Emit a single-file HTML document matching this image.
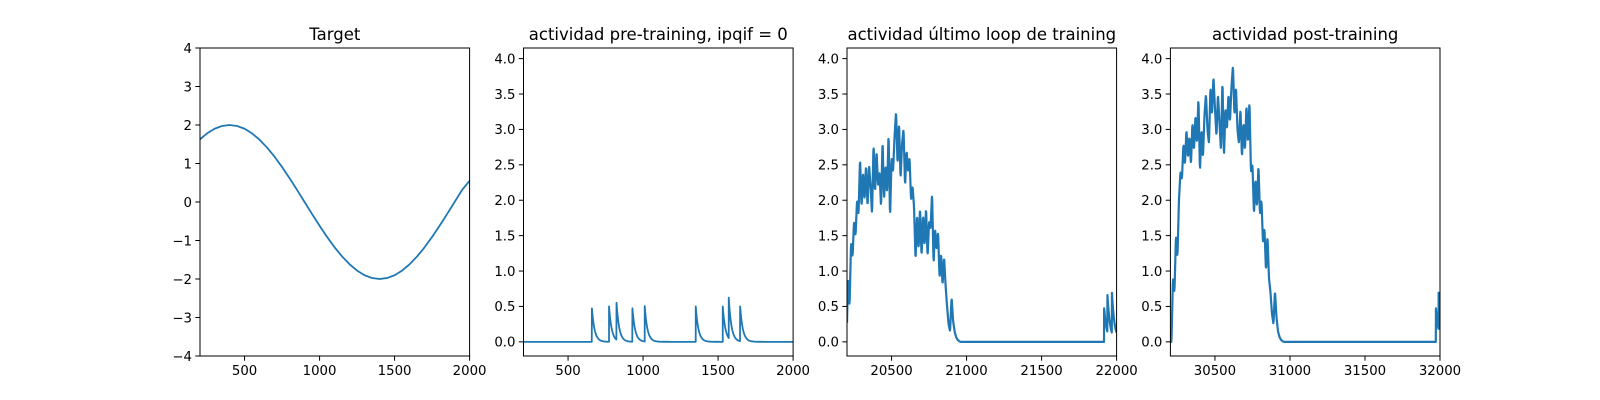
<!DOCTYPE html>
<html><head><meta charset="utf-8"><style>
html,body{margin:0;padding:0;background:#fff;}
svg{display:block;font-family:"DejaVu Sans","Liberation Sans",sans-serif;}
</style></head><body>
<svg id="fig" width="1600" height="400" viewBox="0 0 1600 400" xmlns="http://www.w3.org/2000/svg"></svg>
<script>
// ---- data ----
const titles = ["Target", "actividad pre-training, ipqif = 0", "actividad último loop de training", "actividad post-training"];
const xLims = [[203, 2000], [203, 2000], [20203, 22000], [30203, 32000]];
const yLims = [[-4, 4], [-0.2, 4.15], [-0.2, 4.15], [-0.2, 4.15]];
const xTicks = [[500, 1000, 1500, 2000], [500, 1000, 1500, 2000], [20500, 21000, 21500, 22000], [30500, 31000, 31500, 32000]];
const yTicks1 = [-4, -3, -2, -1, 0, 1, 2, 3, 4];
const yTicksAct = [0, 0.5, 1, 1.5, 2, 2.5, 3, 3.5, 4];

// target (sampled every 50)
const targetX = [200,250,300,350,400,450,500,550,600,650,700,750,800,850,900,950,1000,1050,1100,1150,1200,1250,1300,1350,1400,1450,1500,1550,1600,1650,1700,1750,1800,1850,1900,1950,2000];
const targetY = [1.618,1.782,1.902,1.975,2,1.975,1.902,1.782,1.618,1.414,1.176,0.908,0.618,0.313,0,-0.313,-0.618,-0.908,-1.176,-1.414,-1.618,-1.782,-1.902,-1.975,-2,-1.975,-1.902,-1.782,-1.618,-1.414,-1.176,-0.908,-0.618,-0.313,0,0.313,0.55];

// pre-training spikes
const preSpikeT = [658, 773, 822, 928, 1011, 1351, 1531, 1571, 1646];
const preSpikeH = [0.5, 0.5, 0.55, 0.5, 0.5, 0.5, 0.5, 0.57, 0.52];

// last training loop (sampled every 10 from 20200)
const lastStart = 20200;
const lastY = [0,0.9,0.5,1.4,1.2,1.7,1.5,2.0,1.8,2.6,1.9,2.4,2.0,2.5,1.9,2.5,2.2,1.8,2.8,2.1,2.7,2.2,2.4,1.9,2.85,2.0,2.5,2.1,2.95,1.75,2.6,2.4,2.9,3.25,2.5,3.1,2.3,2.8,3.0,2.2,2.7,2.4,2.6,2.0,2.2,1.9,1.15,1.8,1.3,1.9,1.2,1.8,1.35,1.9,1.2,1.7,1.6,2.1,1.1,1.6,1.3,1.55,0.9,1.25,0.8,1.2,0.8,0.5,0.25,0.15,0.63,0.3,0.15,0.07,0.03,0.01,0];
const lastSpikeT = [21916, 21938, 21968];
const lastSpikeH = [0.5, 0.55, 0.6];

// post-training (sampled every 10 from 30200)
const postStart = 30200;
const postY = [0,0,0.9,0.7,1.5,1.2,2.0,2.4,2.3,2.8,2.5,3.0,2.6,2.9,2.5,3.1,2.7,3.2,2.8,3.45,2.4,3.0,2.6,3.2,3.5,3.0,2.8,3.6,3.2,3.75,3.3,2.9,3.5,3.1,2.7,3.7,2.6,3.3,3.0,3.5,3.1,3.6,3.9,3.2,3.6,3.0,2.8,3.3,2.6,3.1,2.7,3.35,2.8,3.4,2.4,2.5,1.8,2.3,1.9,2.5,1.8,2.0,1.4,1.6,1.0,1.5,0.9,0.7,0.4,0.25,0.72,0.35,0.15,0.07,0.03,0.01,0];
const postSpikeT = [31972, 31990];
const postSpikeH = [0.5, 0.55];

// ---- layout ----
const NS = "http://www.w3.org/2000/svg";
const svg = document.getElementById("fig");
const axL = [200, 523.5, 847, 1170.4], axW = 269.6, axT = 48, axB = 356;
const col = "#1f77b4";
function mk(tag, attrs, parent) { const e = document.createElementNS(NS, tag); for (const k in attrs) e.setAttribute(k, attrs[k]); (parent || svg).appendChild(e); return e; }
const tau = 18;
function spikeVal(x, T, H) { let v = 0; for (let i = 0; i < T.length; i++) if (x >= T[i]) v += H[i] * Math.exp(-(x - T[i]) / tau); return v; }
function sampled(x, start, Y) { const f = (x - start) / 10; if (f < 0 || f >= Y.length - 1) return 0; const i = Math.floor(f), r = f - i; return Y[i] * (1 - r) + Y[i + 1] * r; }

const seriesFns = [
  null,
  x => spikeVal(x, preSpikeT, preSpikeH),
  x => sampled(x, lastStart, lastY) + spikeVal(x, lastSpikeT, lastSpikeH),
  x => sampled(x, postStart, postY) + spikeVal(x, postSpikeT, postSpikeH)
];
function fmtY(v, p) { if (p === 0) return (v < 0 ? "\u2212" : "") + Math.abs(v); return v.toFixed(1); }

for (let p = 0; p < 4; p++) {
  const g = mk("g", {});
  
  
  const x0 = axL[p], [xa, xb] = xLims[p], [ya, yb] = yLims[p];
  const sx = x => x0 + (x - xa) / (xb - xa) * axW;
  const sy = y => axB - (y - ya) / (yb - ya) * (axB - axT);
  const cp = mk("clipPath", { id: "cp" + p }, g);
  mk("rect", { x: x0, y: axT, width: axW, height: axB - axT }, cp);
  let pts = [];
  if (p === 0) {
    for (let i = 0; i < targetX.length; i++) pts.push(sx(targetX[i]).toFixed(2) + "," + sy(targetY[i]).toFixed(2));
  } else {
    const T = p === 1 ? preSpikeT : p === 2 ? lastSpikeT : postSpikeT;
    for (let x = xa; x <= xb; x += 2) {
      for (const t of T) if (t > x - 2 && t <= x) pts.push(sx(t).toFixed(2) + "," + sy(seriesFns[p](t - 0.01)).toFixed(2));
      pts.push(sx(x).toFixed(2) + "," + sy(seriesFns[p](x)).toFixed(2));
    }
  }
  const line = mk("polyline", { points: pts.join(" "), fill: "none", stroke: col, "stroke-width": p >= 2 ? 2.2 : 1.8, "stroke-linejoin": "round", "clip-path": "url(#cp" + p + ")" }, g);
  
  
  const fr = mk("rect", { x: x0, y: axT, width: axW, height: axB - axT, fill: "none", stroke: "#000", "stroke-width": 1 }, g);
  
  
  for (const t of xTicks[p]) {
    const X = sx(t);
    mk("line", { x1: X, x2: X, y1: axB, y2: axB + 4.7, stroke: "#000", "stroke-width": 1 }, g);
    const tx = mk("text", { x: X, y: axB + 19, "text-anchor": "middle", "font-size": 13.3, fill: "#000" }, g);
    tx.textContent = t;
    
    
  }
  const yt = p === 0 ? yTicks1 : yTicksAct;
  for (const t of yt) {
    const Y = sy(t);
    mk("line", { x1: x0 - 4.7, x2: x0, y1: Y, y2: Y, stroke: "#000", "stroke-width": 1 }, g);
    const tx = mk("text", { x: x0 - 8, y: Y + 4.8, "text-anchor": "end", "font-size": 13.3, fill: "#000" }, g);
    tx.textContent = fmtY(t, p);
    
    
  }
  const ti = mk("text", { x: x0 + axW / 2, y: axT - 8, "text-anchor": "middle", "font-size": 16.5, fill: "#000" }, g);
  ti.textContent = titles[p];
  
  
}
</script>
</body></html>
